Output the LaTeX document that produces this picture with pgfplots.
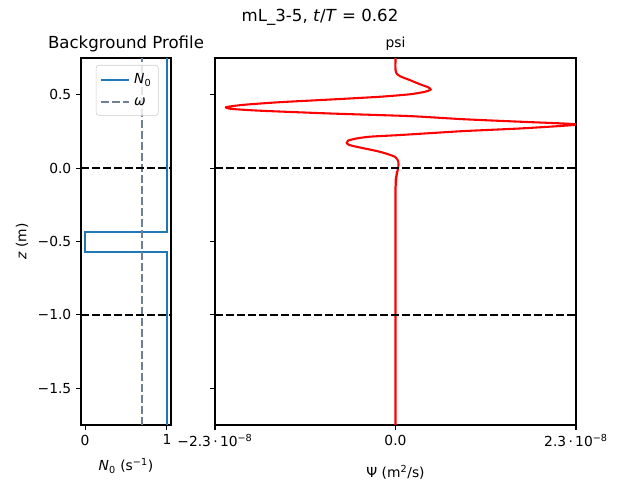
\documentclass[border=0pt]{standalone}
\usepackage{fontspec}
\setmainfont{DejaVu Sans}
\usepackage{pgfplots}
\pgfplotsset{compat=1.18}
\definecolor{tabblue}{HTML}{1F77B4}
\definecolor{slategray}{HTML}{708090}
\begin{document}
\begin{tikzpicture}
\path[use as bounding box] (0,0) rectangle (6.4in,4.8in);
\pgfplotsset{
  every axis/.append style={
    scale only axis,
    axis line style={line width=0.8pt},
    tick style={line width=0.8pt, black},
    tick align=outside,
    major tick length=3.5pt,
    xtick pos=bottom, ytick pos=left,
    ymin=-1.75, ymax=0.75,
    ytick={-1.5,-1,-0.5,0,0.5},
    tick label style={font=\fontsize{10}{12}\selectfont},
    label style={font=\fontsize{10}{12}\selectfont},
  },
  hl/.style={black, line width=1.5pt, dash pattern=on 5.55pt off 2.4pt, forget plot},
}
\begin{axis}[
  at={(0.81in,0.55in)}, anchor=south west,
  width=0.90in, height=3.67in,
  xmin=-0.05, xmax=1.05,
  xtick={0,1}, xticklabels={0,1},
  yticklabels={−1.5,−1.0,−0.5,0.0,0.5},
  xlabel={\textit{N}\textsubscript{0} (s\textsuperscript{−1})},
  xlabel style={yshift=-3pt},
  ylabel={\textit{z} (m)},
  title={Background Profile},
  title style={font=\fontsize{12}{14}\selectfont, yshift=-5pt},
  legend cell align=left,
  legend image code/.code={\draw[#1] (0pt,0pt) -- (20pt,0pt);},
  legend style={at={(0.165,0.981)}, anchor=north west, draw=black!20, rounded corners=2pt,
    fill=white, fill opacity=0.8, text opacity=1, font=\fontsize{10}{12}\selectfont,
    inner xsep=3pt, inner ysep=4pt, row sep=4.5pt,
    /tikz/every odd column/.append style={column sep=1pt}},
]
\addplot[tabblue, line width=1.5pt] coordinates {
(1,0.75) (1,-0.435) (0,-0.435) (0,-0.571) (1,-0.571) (1,-1.75)};
\addlegendentry{\textit{N}\textsubscript{0}}
\addplot[slategray, line width=1.5pt, dash pattern=on 5.55pt off 2.4pt] coordinates {
(0.7,-1.75) (0.7,0.75)};
\addlegendentry{\textit{ω}}
\addplot[hl] coordinates {(-0.05,0) (1.05,0)};
\addplot[hl] coordinates {(-0.05,-1) (1.05,-1)};
\end{axis}
\begin{axis}[
  at={(2.15in,0.55in)}, anchor=south west,
  width=3.61in, height=3.67in,
  xmin=-2.3e-8, xmax=2.3e-8,
  scaled x ticks=false,
  xtick={-2.3e-8,0,2.3e-8},
  xticklabels={−2.3\,·\,10\textsuperscript{−8},0.0,2.3\,·\,10\textsuperscript{−8}},
  yticklabels={},
  xlabel={Ψ (m\textsuperscript{2}/s)},
  xlabel style={yshift=-6pt},
  title={psi},
  title style={font=\fontsize{10}{12}\selectfont, yshift=-4pt},
]
\addplot[red, line width=1.5pt, smooth, tension=0.4] coordinates {
(0,0.75) (0,0.667) (0.127e-9,0.646) (0.573e-9,0.626) (1.848e-9,0.599)
(3.122e-9,0.571) (4.141e-9,0.551) (4.485e-9,0.535) (3.759e-9,0.520)
(1.848e-9,0.503) (-1.975e-9,0.486) (-8.346e-9,0.467) (-14.717e-9,0.449)
(-19.177e-9,0.432) (-21.343e-9,0.418) (-21.598e-9,0.412) (-20.833e-9,0.403)
(-17.265e-9,0.391) (-8.346e-9,0.372) (1.848e-9,0.354) (8.639e-9,0.333)
(15.864e-9,0.316) (21.343e-9,0.304) (23.089e-9,0.297) (21.343e-9,0.288)
(15.864e-9,0.270) (8.639e-9,0.252) (4.396e-9,0.238) (0.153e-9,0.224)
(-3.249e-9,0.214) (-4.944e-9,0.202) (-6.053e-9,0.187) (-6.218e-9,0.172)
(-5.925e-9,0.158) (-4.944e-9,0.145) (-1.975e-9,0.111) (-0.064e-9,0.077)
(0.357e-9,0.043) (0.357e-9,0.009) (0.153e-9,-0.048) (0.064e-9,-0.095)
(0,-0.184) (0,-1.75)};
\addplot[hl] coordinates {(-2.3e-8,0) (2.3e-8,0)};
\addplot[hl] coordinates {(-2.3e-8,-1) (2.3e-8,-1)};
\end{axis}
\node[font=\fontsize{12}{14}\selectfont] at (3.2in,4.63in) {mL\_3-5, \textit{t}/\textit{T} = 0.62};
\end{tikzpicture}
\end{document}
